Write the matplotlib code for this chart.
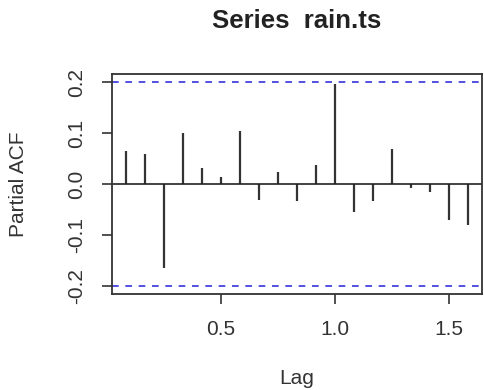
import matplotlib
matplotlib.use("Agg")
import matplotlib.pyplot as plt
import numpy as np

plt.rcParams['font.family'] = ['Liberation Sans', 'DejaVu Sans']

lags = [i / 12 for i in range(1, 20)]
pacf = [0.065, 0.060, -0.164, 0.100, 0.031, 0.013, 0.104, -0.032, 0.023, -0.034,
        0.037, 0.197, -0.054, -0.034, 0.069, -0.007, -0.015, -0.070, -0.081]
clim = 0.2
xticks = [0.5, 1.0, 1.5]
yticks = [-0.2, -0.1, 0.0, 0.1, 0.2]
ytick_labels = ["-0.2", "-0.1", "0.0", "0.1", "0.2"]

fig = plt.figure(figsize=(4.84, 3.90), dpi=100)
ax = fig.add_axes([0.231, 0.246, 0.765, 0.564])

ax.vlines(lags, 0, pacf, color='#333333', linewidth=1.6)
ax.axhline(0, color='#222222', linewidth=1.2)
ax.axhline(clim, color='#3333dd', linestyle=(0, (4, 4)), linewidth=1.2)
ax.axhline(-clim, color='#3333dd', linestyle=(0, (4, 4)), linewidth=1.2)

span = lags[-1] - lags[0]
ax.set_xlim(lags[0] - 0.04 * span, lags[-1] + 0.04 * span)
ylo, yhi = -clim, clim
yspan = yhi - ylo
ax.set_ylim(ylo - 0.04 * yspan, yhi + 0.04 * yspan)

ax.set_xticks(xticks)
ax.set_xticklabels(["0.5", "1.0", "1.5"])
ax.set_yticks(yticks)
ax.set_yticklabels(ytick_labels, rotation=90, va='center')
ax.tick_params(axis='both', length=7.5, width=1.2, labelsize=15, colors='#333333', pad=11)

for s in ax.spines.values():
    s.set_linewidth(1.3)
    s.set_color('#333333')

ax.set_xlabel("Lag", fontsize=15, labelpad=22, color='#333333')
ax.set_ylabel("Partial ACF", fontsize=15, labelpad=28, color='#333333')
fig.text(0.613, 0.945, "Series  rain.ts", ha='center', va='center',
         fontsize=18.5, fontweight='bold', color='#222222')

fig.savefig("out.png", dpi=100)
